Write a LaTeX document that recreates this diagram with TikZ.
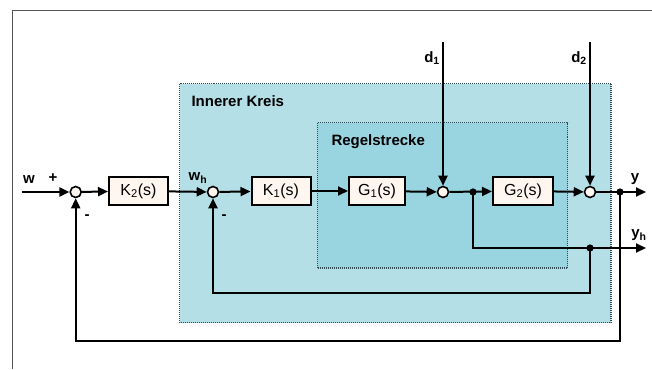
\documentclass[tikz,border=0pt]{standalone}
\usepackage{fontspec}
\setmainfont{Liberation Sans}
\usetikzlibrary{arrows.meta}
\definecolor{outerfill}{HTML}{B4DFE6}
\definecolor{innerfill}{HTML}{98D5E0}
\definecolor{boxfill}{HTML}{FFF6F0}
\definecolor{dotline}{HTML}{2F4A55}
\definecolor{frameline}{HTML}{555555}
\begin{document}
\begin{tikzpicture}[x=1pt,y=-1pt,
  sig/.style={line width=2pt,-{Triangle[length=10pt,width=9pt]}},
  blk/.style={draw,line width=2pt,fill=boxfill,minimum width=59pt,minimum height=28pt,inner sep=0pt,font=\fontsize{16}{18}\selectfont},
  sumc/.style={circle,draw,line width=1.6pt,fill=boxfill,minimum size=11pt,inner sep=0pt},
  jdot/.style={circle,fill=black,minimum size=7pt,inner sep=0pt},
  region/.style={draw=dotline,line width=1.4pt,dash pattern=on 1pt off 1pt},
  lbl/.style={font=\bfseries\fontsize{15}{17}\selectfont},
  title/.style={font=\bfseries\fontsize{15}{17}\selectfont,anchor=west}]
\useasboundingbox (0,0) rectangle (652,369);
\fill[white] (0,0) rectangle (652,369);
\draw[frameline,line width=1.2pt] (12.5,369) -- (12.5,10.5) -- (652,10.5);
% regions
\filldraw[region,fill=outerfill] (179.5,83.5) rectangle (611,322.5);
\filldraw[region,fill=innerfill] (317.5,122.5) rectangle (567.5,268);
\node[title] (tik) at (188,101.5) {Innerer Kreis};
\node[title] (trs) at (328,141.5) {Regelstrecke};
% nodes
\coordinate (win) at (21.5,192);
\node[sumc] (s1) at (75.7,192) {};
\node[blk] (k2) at (138.5,191) {K\textsubscript{2}(s)};
\node[sumc] (s2) at (213,192) {};
\node[blk] (k1) at (281,191) {K\textsubscript{1}(s)};
\node[blk,minimum width=56pt] (g1) at (377,191) {G\textsubscript{1}(s)};
\node[sumc] (s3) at (443,192) {};
\node[jdot] (j1) at (473,192) {};
\node[blk,minimum width=60pt] (g2) at (523,191) {G\textsubscript{2}(s)};
\node[sumc] (s4) at (590,192) {};
\node[jdot] (j2) at (620,192) {};
\coordinate (yout) at (646,192);
\node[jdot] (j3) at (590,248) {};
\coordinate (yhout) at (646,248);
\coordinate (yhc) at (473,248);
\coordinate (fb1a) at (590,293);
\coordinate (fb1b) at (213,293);
\coordinate (fb2a) at (620,341);
\coordinate (fb2b) at (75.7,341);
\coordinate (d1in) at (443,42);
\coordinate (d2in) at (590,42);
% labels
\node[lbl] (lw) at (29,180) {w};
\node[lbl] (lplus) at (53,178) {+};
\node[lbl] (lm1) at (87,217) {-};
\node[lbl] (lm2) at (224,217) {-};
\node[lbl] (lwh) at (198,178) {w\textsubscript{h}};
\node[lbl] (ld1) at (432,58) {d\textsubscript{1}};
\node[lbl] (ld2) at (579,58) {d\textsubscript{2}};
\node[lbl] (ly) at (635,179) {y};
\node[lbl] (lyh) at (639,235) {y\textsubscript{h}};
% connectors
\draw[sig] (win) -- (s1);
\draw[sig] (s1) -- (k2);
\draw[sig] (k2) -- (s2);
\draw[sig] (s2) -- (k1);
\draw[sig] (k1) -- (g1);
\draw[sig] (g1) -- (s3);
\draw[sig] (s3) -- (g2);
\draw[sig] (g2) -- (s4);
\draw[sig] (s4) -- (yout);
\draw[sig] (d1in) -- (s3);
\draw[sig] (d2in) -- (s4);
\draw[sig] (j1.center) -- (yhc) -- (yhout);
\draw[sig] (j3.center) -- (fb1a) -- (fb1b) -- (s2);
\draw[sig] (j2.center) -- (fb2a) -- (fb2b) -- (s1);
\node[jdot] at (j1) {};
\node[jdot] at (j2) {};
\node[jdot] at (j3) {};
\end{tikzpicture}
\end{document}
